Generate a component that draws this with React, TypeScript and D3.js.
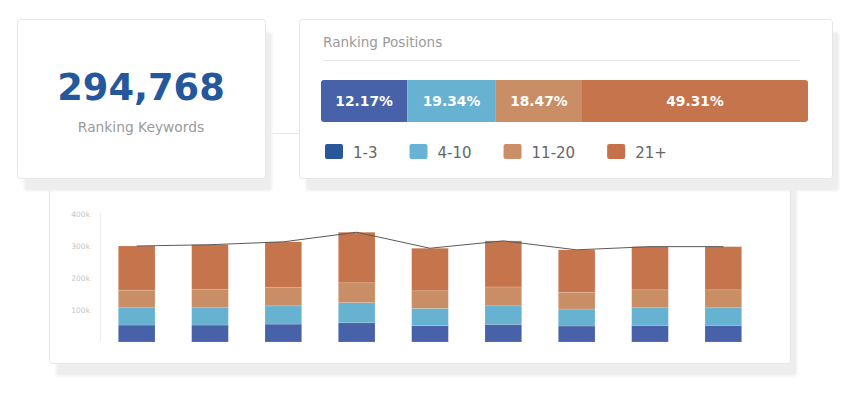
import React, { useEffect, useRef } from "react";
import * as d3 from "d3";

const periods = ["P1", "P2", "P3", "P4", "P5", "P6", "P7", "P8", "P9"];
const pos1to3 = [53, 53, 56, 60, 51, 55, 50, 52, 52];
const pos4to10 = [56, 56, 57, 63, 54, 58, 53, 55, 55];
const pos11to20 = [53, 56, 57, 62, 55, 59, 52, 56, 56];
const pos21plus = [138, 139, 143, 158, 133, 144, 133, 135, 135];
const yTicks = [100, 200, 300, 400];

const groupLabels = ["1-3", "4-10", "11-20", "21+"];
const groupShares = [12.17, 19.34, 18.47, 49.31];
const totalKeywords = 294768;

const barColors = ["#4762a8", "#67b2d0", "#c98e66", "#c5744b"];
const legendColors = ["#2a5799", "#68b3d3", "#cb8e66", "#c5714a"];
const FONT = "'DejaVu Sans', Verdana, sans-serif";

export default function App() {
  const ref = useRef<SVGSVGElement | null>(null);

  useEffect(() => {
    const svg = d3.select(ref.current);
    svg.selectAll("*").remove();

    const defs = svg.append("defs");
    defs
      .append("filter")
      .attr("id", "sh")
      .attr("x", "-10%")
      .attr("y", "-10%")
      .attr("width", "120%")
      .attr("height", "130%")
      .append("feGaussianBlur")
      .attr("stdDeviation", 1.2);

    const card = (x: number, y: number, w: number, h: number) => {
      svg
        .append("rect")
        .attr("x", x + 7)
        .attr("y", y + 13)
        .attr("width", w)
        .attr("height", h)
        .attr("rx", 3)
        .attr("fill", "#eeeeee")
        .attr("filter", "url(#sh)");
      svg
        .append("rect")
        .attr("x", x + 0.5)
        .attr("y", y + 0.5)
        .attr("width", w)
        .attr("height", h)
        .attr("rx", 3)
        .attr("fill", "#fff")
        .attr("stroke", "#e6e6e6");
    };

    // ---- chart card (behind) ----
    card(49, 133, 741, 230);

    const rows = periods.map((p, i) => ({
      period: p,
      a: pos1to3[i],
      b: pos4to10[i],
      c: pos11to20[i],
      d: pos21plus[i],
    }));
    const keys = ["a", "b", "c", "d"];
    const stack = d3.stack<any>().keys(keys)(rows);
    const totals = rows.map((r) => r.a + r.b + r.c + r.d);

    const x = d3
      .scaleBand<string>()
      .domain(periods)
      .range([100, 760])
      .paddingInner(0.5)
      .paddingOuter(0.25);
    const y = d3.scaleLinear().domain([0, 400]).range([342, 214]);

    const chart = svg.append("g");
    chart
      .append("line")
      .attr("x1", 100.5)
      .attr("x2", 100.5)
      .attr("y1", y(400) - 2)
      .attr("y2", y(0))
      .attr("stroke", "#eeeeee");

    chart
      .selectAll("text.yt")
      .data(yTicks)
      .join("text")
      .attr("class", "yt")
      .attr("x", 90)
      .attr("y", (d) => y(d))
      .attr("dy", "0.35em")
      .attr("text-anchor", "end")
      .attr("font-family", FONT)
      .attr("font-size", 7.5)
      .attr("fill", "#c4c4c4")
      .text((d) => `${d}k`);

    stack.forEach((layer, li) => {
      chart
        .append("g")
        .selectAll("rect")
        .data(layer)
        .join("rect")
        .attr("x", (d: any) => x(d.data.period)!)
        .attr("width", x.bandwidth())
        .attr("y", (d: any) => y(d[1]))
        .attr("height", (d: any) => y(d[0]) - y(d[1]))
        .attr("fill", barColors[li])
        .attr("stroke", "#ffffff")
        .attr("stroke-opacity", 0.25)
        .attr("stroke-width", 0.6);
    });

    const line = d3
      .line<number>()
      .x((_, i) => x(periods[i])! + x.bandwidth() / 2)
      .y((d) => y(d));
    chart
      .append("path")
      .attr("d", line(totals))
      .attr("fill", "none")
      .attr("stroke", "#5a5a5a")
      .attr("stroke-width", 1);

    // ---- left card ----
    card(17, 19, 248, 159);
    svg
      .append("text")
      .attr("x", 141)
      .attr("y", 100)
      .attr("text-anchor", "middle")
      .attr("font-family", FONT)
      .attr("font-weight", "bold")
      .attr("font-size", 36.8)
      .attr("fill", "#24579b")
      .text(d3.format(",")(totalKeywords));
    svg
      .append("text")
      .attr("x", 141)
      .attr("y", 132)
      .attr("text-anchor", "middle")
      .attr("font-family", FONT)
      .attr("font-size", 13.8)
      .attr("fill", "#9a9a9a")
      .text("Ranking Keywords");

    // ---- right card ----
    card(299, 19, 533, 159);
    svg
      .append("text")
      .attr("x", 323)
      .attr("y", 47)
      .attr("font-family", FONT)
      .attr("font-size", 13.6)
      .attr("fill", "#9a9a9a")
      .text("Ranking Positions");
    svg
      .append("line")
      .attr("x1", 323)
      .attr("x2", 800)
      .attr("y1", 60.5)
      .attr("y2", 60.5)
      .attr("stroke", "#e8e8e8");

    const minShare = 18.8;
    const widths = groupShares.map((s) => Math.max(s, minShare));
    const cum = d3.cumsum(widths);
    const hx = d3.scaleLinear().domain([0, cum[cum.length - 1]]).range([321, 808]);
    defs
      .append("clipPath")
      .attr("id", "hb")
      .append("rect")
      .attr("x", 321)
      .attr("y", 80)
      .attr("width", 487)
      .attr("height", 42)
      .attr("rx", 3);
    const hb = svg.append("g").attr("clip-path", "url(#hb)");
    groupShares.forEach((s, i) => {
      const x0 = hx(i === 0 ? 0 : cum[i - 1]);
      const x1 = hx(cum[i]);
      hb.append("rect")
        .attr("x", x0)
        .attr("y", 80)
        .attr("width", x1 - x0)
        .attr("height", 42)
        .attr("fill", barColors[i]);
      svg
        .append("text")
        .attr("x", (x0 + x1) / 2)
        .attr("y", 101)
        .attr("dy", "0.36em")
        .attr("text-anchor", "middle")
        .attr("font-family", FONT)
        .attr("font-weight", "bold")
        .attr("font-size", 13.8)
        .attr("fill", "#ffffff")
        .text(`${s.toFixed(2)}%`);
    });

    // legend
    let lx = 325;
    groupLabels.forEach((lab, i) => {
      svg
        .append("rect")
        .attr("x", lx)
        .attr("y", 144)
        .attr("width", 18)
        .attr("height", 15)
        .attr("rx", 2)
        .attr("fill", legendColors[i]);
      const t = svg
        .append("text")
        .attr("x", lx + 28)
        .attr("y", 157.5)
        .attr("font-family", FONT)
        .attr("font-size", 15)
        .attr("fill", "#666666")
        .text(lab);
      const w = (t.node() as SVGTextElement).getComputedTextLength();
      lx = lx + 28 + w + 32;
    });
  }, []);

  return (
    <svg
      ref={ref}
      width={850}
      height={393}
      style={{ position: "absolute", left: 0, top: 0, background: "#fff" }}
    />
  );
}
